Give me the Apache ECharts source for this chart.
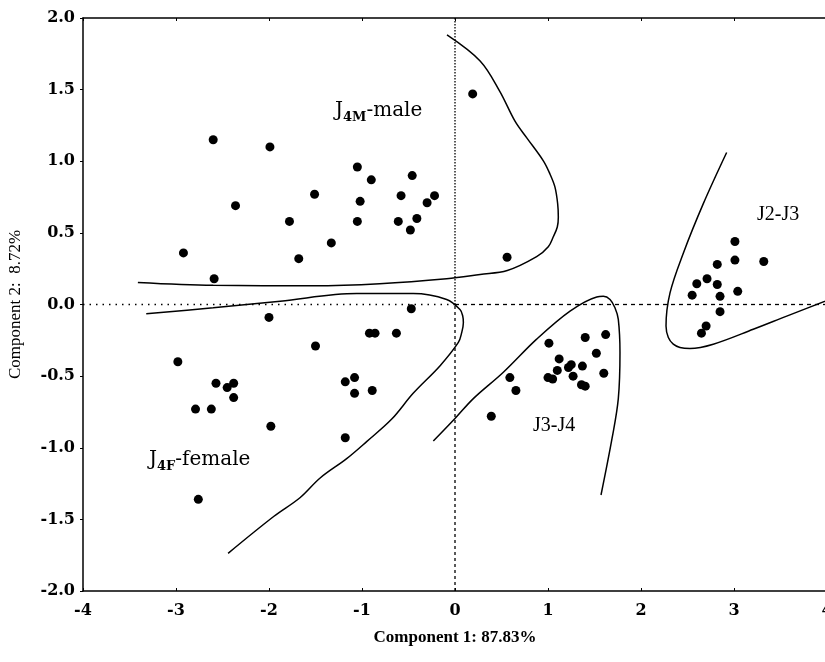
<!DOCTYPE html>
<html><head><meta charset="utf-8">
<script src="https://cdn.jsdelivr.net/npm/echarts@6/dist/echarts.min.js"></script>
<style>html,body{margin:0;padding:0;background:#fff}#c{width:825px;height:662px}</style>
</head><body><div id="c"></div>
<script>
// ---- data ----
const xTicks = [-4,-3,-2,-1,0,1,2,3,4];
const yTicks = [-2.0,-1.5,-1.0,-0.5,0.0,0.5,1.0,1.5,2.0];
const xName = 'Component 1: 87.83%';
const yName = 'Component 2:  8.72%';

const malePoints = [[-2.6,1.15],[-1.99,1.10],[-2.36,0.69],[-2.92,0.36],[-2.59,0.18],[-1.51,0.77],[-1.78,0.58],
  [-1.68,0.32],[-1.33,0.43],[-1.05,0.96],[-0.90,0.87],[-1.02,0.72],[-1.05,0.58],[-0.58,0.76],[-0.46,0.90],
  [-0.61,0.58],[-0.41,0.60],[-0.48,0.52],[-0.30,0.71],[-0.22,0.76],[0.19,1.47],[0.56,0.33]];
const femalePoints = [[-2.0,-0.09],[-0.47,-0.03],[-0.92,-0.20],[-0.86,-0.20],[-0.63,-0.20],[-1.50,-0.29],
  [-2.98,-0.40],[-2.57,-0.55],[-2.45,-0.58],[-2.38,-0.55],[-2.38,-0.65],[-2.79,-0.73],[-2.62,-0.73],
  [-1.98,-0.85],[-1.18,-0.54],[-1.08,-0.51],[-1.08,-0.62],[-0.89,-0.60],[-1.18,-0.93],[-2.76,-1.36]];
const j34Points = [[1.01,-0.27],[1.40,-0.23],[1.62,-0.21],[1.52,-0.34],[1.12,-0.38],[1.10,-0.46],[1.22,-0.44],
  [1.25,-0.42],[1.37,-0.43],[1.60,-0.48],[1.00,-0.51],[1.05,-0.52],[1.27,-0.50],[1.36,-0.56],[1.40,-0.57],
  [0.59,-0.51],[0.655,-0.60],[0.39,-0.78]];
const j23Points = [[3.01,0.44],[3.01,0.31],[3.32,0.30],[2.82,0.28],[2.60,0.145],[2.71,0.18],[2.82,0.14],
  [2.55,0.065],[2.85,0.057],[3.04,0.092],[2.85,-0.05],[2.70,-0.15],[2.65,-0.20]];

const maleCurve = [[-3.41,0.154],[-2.6,0.134],[-1.53,0.131],[-0.81,0.145],[-0.09,0.18],[0.27,0.21],[0.562,0.237],
  [0.878,0.334],[1.003,0.403],[1.057,0.473],[1.1,0.541],[1.111,0.611],[1.104,0.703],[1.075,0.819],[1.021,0.911],
  [0.95,1.003],[0.77,1.165],[0.645,1.28],[0.48,1.49],[0.27,1.70],[-0.086,1.882]];
const femaleCurve = [[-3.32,-0.065],[-2.6,-0.023],[-1.88,0.023],[-1.057,0.076],[-0.45,0.076],[-0.09,0.035],
  [0.054,-0.035],[0.083,-0.08],[0.09,-0.127],[0.072,-0.196],[0.036,-0.265],[-0.16,-0.427],[-0.45,-0.62],
  [-0.68,-0.80],[-0.95,-0.957],[-1.165,-1.076],[-1.45,-1.211],[-1.667,-1.349],[-1.95,-1.48],[-2.44,-1.737]];
const j34Curve = [[-0.233,-0.953],[0,-0.796],[0.197,-0.657],[0.52,-0.473],[0.878,-0.242],[1.237,-0.046],
  [1.524,0.053],[1.595,0.057],[1.667,0.035],[1.72,-0.023],[1.756,-0.104],[1.774,-0.334],[1.756,-0.657],
  [1.69,-0.93],[1.57,-1.33]];
const j23Curve = [[2.921,1.061],[2.67,0.704],[2.455,0.358],[2.312,0.081],[2.269,-0.150],[2.294,-0.231],
  [2.347,-0.277],[2.419,-0.300],[2.527,-0.307],[2.777,-0.277],[3.207,-0.173],[3.567,-0.081],[3.98,0.023],[4.0,0.03]];

const vUpper = [[0,0],[0,2]];
const vLower = [[0,-2],[0,0]];
const hLeft = [[-4,0],[0,0]];
const hRight = [[0,0],[4,0]];

// ---- chart ----
const chart = echarts.init(document.getElementById('c'), null, {renderer:'canvas'});
const tickFont = {fontFamily:'DejaVu Serif', fontWeight:'bold', fontSize:16, color:'#000'};
const nameFont = {fontFamily:'Liberation Serif', fontWeight:'bold', fontSize:17, color:'#000'};
function pts(data){ return {type:'scatter', data:data, symbol:'circle', symbolSize:9, itemStyle:{color:'#000', opacity:1}, z:5}; }
function curve(data){ return {type:'line', data:data, smooth:0.35, symbol:'none', lineStyle:{color:'#000', width:1.5}, z:4}; }
function ref(data, t, w){ return {type:'line', data:data, symbol:'none', lineStyle:{color:'#000', width:w||1.3, type:t}, z:3}; }
const rich = {
  a:{fontFamily:'Liberation Serif', fontSize:20, color:'#000', lineHeight:24, verticalAlign:'bottom'},
  b:{fontFamily:'DejaVu Serif', fontSize:20, color:'#000', lineHeight:24, verticalAlign:'bottom'},
  s:{fontFamily:'DejaVu Serif', fontSize:13, fontWeight:'bold', color:'#000', lineHeight:24, verticalAlign:'bottom', padding:[0,0,-3,0]}
};
chart.setOption({
  animation:false,
  backgroundColor:'#fff',
  grid:{left:83, right:-2, top:18, bottom:71, containLabel:false, outerBoundsMode:'none'},
  xAxis:[{
    type:'value', min:-4, max:4, interval:1,
    axisLine:{show:true, onZero:false, lineStyle:{color:'#000', width:1.5}},
    axisTick:{show:true, inside:true, length:3, lineStyle:{color:'#000'}},
    axisLabel:Object.assign({margin:12, formatter:v=>xTicks.includes(v)?String(v):''}, tickFont),
    splitLine:{show:false},
    name:xName, nameLocation:'middle', nameGap:38, nameMoveOverlap:false, nameTextStyle:nameFont
  },{
    type:'value', min:-4, max:4, interval:1, position:'top',
    axisLine:{show:true, onZero:false, lineStyle:{color:'#000', width:1.5}},
    axisTick:{show:true, inside:true, length:3, lineStyle:{color:'#000'}},
    axisLabel:{show:false}, splitLine:{show:false}
  }],
  yAxis:{
    type:'value', min:-2, max:2, interval:0.5,
    axisLine:{show:true, onZero:false, lineStyle:{color:'#000', width:1.5}},
    axisTick:{show:true, inside:false, length:3, lineStyle:{color:'#000'}},
    axisLabel:Object.assign({margin:8, formatter:v=>yTicks.includes(v)?v.toFixed(1):''}, tickFont),
    splitLine:{show:false},
    name:yName, nameLocation:'middle', nameGap:59, nameRotate:90, nameMoveOverlap:false,
    nameTextStyle:{fontFamily:'Liberation Serif', fontSize:17, color:'#000'}
  },
  series:[
    ref(vUpper,[1.5,1.5],1.3), ref(vLower,[3,3],1.3), ref(hLeft,[1.5,5],1.6), ref(hRight,[4,4],1.3),
    curve(maleCurve), curve(femaleCurve), curve(j34Curve), curve(j23Curve),
    pts(malePoints), pts(femalePoints), pts(j34Points), pts(j23Points)
  ],
  graphic:[
    {type:'text', left:335, top:101, style:{text:'{b|J}{s|4M}{b|-male}', rich:rich}},
    {type:'text', left:149, top:450, style:{text:'{b|J}{s|4F}{b|-female}', rich:rich}},
    {type:'text', left:533, top:416, style:{text:'{a|J3-J4}', rich:rich}},
    {type:'text', left:757, top:205, style:{text:'{a|J2-J3}', rich:rich}}
  ]
});
</script></body></html>
